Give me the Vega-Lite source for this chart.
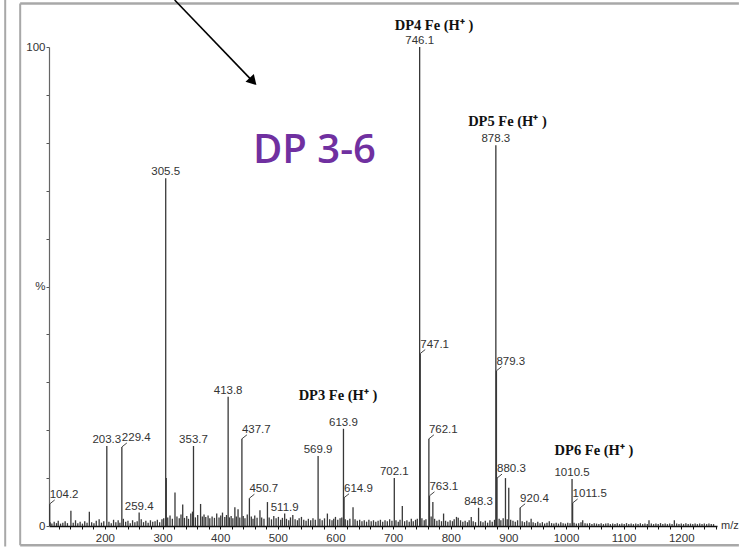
{
  "$schema": "https://vega.github.io/schema/vega-lite/v6.json",
  "width": 668,
  "height": 479,
  "autosize": {"type": "none"},
  "padding": {"left": 49, "top": 47, "right": 23, "bottom": 22},
  "background": "white",
  "config": {"view": {"stroke": null}},
  "datasets": {
    "peaks": [
      {"mz":104.2,"i":4.6},{"mz":203.3,"i":16.7},{"mz":229.4,"i":16.5},{"mz":259.4,"i":2.8},{"mz":305.5,"i":72.6},{"mz":353.7,"i":16.7},{"mz":413.8,"i":27},{"mz":437.7,"i":18.2},{"mz":450.7,"i":5.8},{"mz":511.9,"i":2.6},{"mz":569.9,"i":14.6},{"mz":613.9,"i":20.3},{"mz":614.9,"i":5.9},{"mz":702.1,"i":10},{"mz":746.1,"i":100},{"mz":747.1,"i":36},{"mz":762.1,"i":18.2},{"mz":763.1,"i":6.3},{"mz":848.3,"i":3.8},{"mz":878.3,"i":79.5},{"mz":879.3,"i":32.4},{"mz":880.3,"i":10},{"mz":920.4,"i":3.8},{"mz":1010.5,"i":9.8},{"mz":1011.5,"i":4.8},
      {"mz":105,"i":0.8},{"mz":108,"i":0.5},{"mz":112,"i":0.9},{"mz":116,"i":0.6},{"mz":119,"i":1.1},{"mz":123,"i":0.5},{"mz":127,"i":0.7},{"mz":131,"i":1.0},{"mz":135,"i":0.6},{"mz":141,"i":3.2},{"mz":145,"i":0.7},{"mz":149,"i":1.2},{"mz":153,"i":0.6},{"mz":157,"i":0.9},{"mz":161,"i":0.5},{"mz":165,"i":1.0},{"mz":169,"i":0.7},{"mz":173,"i":3.0},{"mz":177,"i":0.8},{"mz":181,"i":0.6},{"mz":185,"i":1.1},{"mz":190,"i":1.4},{"mz":194,"i":0.7},{"mz":198,"i":1.0},{"mz":207,"i":0.9},{"mz":211,"i":0.6},{"mz":215,"i":1.3},{"mz":219,"i":0.8},{"mz":223,"i":1.2},{"mz":226,"i":0.7},{"mz":232,"i":1.5},{"mz":236,"i":0.9},{"mz":240,"i":1.1},{"mz":244,"i":0.6},{"mz":248,"i":1.2},{"mz":252,"i":0.8},{"mz":256,"i":1.0},{"mz":263,"i":1.4},{"mz":267,"i":0.8},{"mz":271,"i":1.1},{"mz":275,"i":0.7},{"mz":279,"i":1.2},{"mz":283,"i":0.9},{"mz":287,"i":1.0},{"mz":291,"i":1.3},{"mz":295,"i":0.8},{"mz":299,"i":1.4},{"mz":302,"i":1.6},{"mz":306.5,"i":10},{"mz":309,"i":1.8},{"mz":313,"i":2.2},{"mz":317,"i":1.5},{"mz":321.6,"i":7},{"mz":325,"i":2.0},{"mz":329,"i":1.6},{"mz":332,"i":2.4},{"mz":335,"i":4.5},{"mz":338,"i":1.7},{"mz":342,"i":2.1},{"mz":345,"i":1.5},{"mz":349,"i":2.6},{"mz":352,"i":3.0},{"mz":357,"i":1.8},{"mz":361,"i":2.3},{"mz":366,"i":4.6},{"mz":369,"i":2.0},{"mz":372,"i":2.4},{"mz":375,"i":1.9},{"mz":379,"i":2.2},{"mz":382,"i":1.6},{"mz":386,"i":2.0},{"mz":390,"i":1.7},{"mz":394,"i":2.6},{"mz":398,"i":1.8},{"mz":401,"i":2.2},{"mz":404,"i":2.8},{"mz":408,"i":1.9},{"mz":411,"i":2.3},{"mz":416,"i":1.8},{"mz":419,"i":2.1},{"mz":422,"i":1.6},{"mz":425.5,"i":3.9},{"mz":428,"i":2.0},{"mz":431,"i":3.5},{"mz":434,"i":1.8},{"mz":440,"i":2.1},{"mz":443,"i":1.6},{"mz":447,"i":2.4},{"mz":454,"i":2.0},{"mz":457,"i":1.5},{"mz":460,"i":2.2},{"mz":464,"i":1.7},{"mz":469,"i":3.3},{"mz":472,"i":1.8},{"mz":476,"i":1.5},{"mz":482,"i":5.0},{"mz":485,"i":1.8},{"mz":489,"i":1.4},{"mz":493,"i":2.1},{"mz":497,"i":1.6},{"mz":501,"i":1.9},{"mz":505,"i":1.3},{"mz":508,"i":1.7},{"mz":515,"i":1.5},{"mz":519,"i":1.2},{"mz":522,"i":1.8},{"mz":526,"i":2.3},{"mz":530,"i":1.4},{"mz":534,"i":1.2},{"mz":537,"i":1.6},{"mz":541,"i":1.9},{"mz":545,"i":1.3},{"mz":549,"i":1.1},{"mz":553,"i":1.5},{"mz":557,"i":1.2},{"mz":561,"i":1.6},{"mz":565,"i":1.3},{"mz":573,"i":1.5},{"mz":577,"i":1.2},{"mz":581,"i":1.6},{"mz":586,"i":2.6},{"mz":590,"i":1.4},{"mz":594,"i":1.2},{"mz":597,"i":1.5},{"mz":600,"i":1.9},{"mz":604,"i":1.3},{"mz":608,"i":1.6},{"mz":611,"i":1.8},{"mz":617,"i":1.4},{"mz":621,"i":1.2},{"mz":625,"i":1.5},{"mz":630.5,"i":3.9},{"mz":634,"i":1.4},{"mz":638,"i":1.1},{"mz":642,"i":1.3},{"mz":646,"i":1.0},{"mz":650,"i":1.2},{"mz":654,"i":0.9},{"mz":658,"i":1.3},{"mz":662,"i":1.0},{"mz":666,"i":1.2},{"mz":670,"i":0.9},{"mz":674,"i":1.1},{"mz":678,"i":1.3},{"mz":682,"i":0.9},{"mz":686,"i":1.2},{"mz":690,"i":1.0},{"mz":694,"i":1.4},{"mz":698,"i":1.1},{"mz":705,"i":1.2},{"mz":709,"i":0.9},{"mz":712,"i":1.3},{"mz":716,"i":4.2},{"mz":720,"i":1.0},{"mz":724,"i":1.2},{"mz":728,"i":0.9},{"mz":731.6,"i":1.5},{"mz":735,"i":1.0},{"mz":739,"i":1.3},{"mz":742,"i":1.5},{"mz":750,"i":1.6},{"mz":754,"i":1.2},{"mz":757,"i":1.4},{"mz":766,"i":2.0},{"mz":769,"i":5.0},{"mz":772,"i":1.5},{"mz":776,"i":1.1},{"mz":780,"i":1.3},{"mz":784,"i":1.0},{"mz":787.6,"i":2.6},{"mz":791,"i":1.1},{"mz":795,"i":0.9},{"mz":799,"i":1.2},{"mz":803,"i":1.0},{"mz":806,"i":1.4},{"mz":810,"i":1.9},{"mz":813,"i":1.7},{"mz":817,"i":1.2},{"mz":821,"i":0.9},{"mz":825,"i":1.1},{"mz":829,"i":0.8},{"mz":832,"i":1.2},{"mz":835.6,"i":1.9},{"mz":839,"i":1.0},{"mz":843,"i":0.8},{"mz":852,"i":1.0},{"mz":856,"i":0.8},{"mz":860,"i":1.1},{"mz":864,"i":0.7},{"mz":868,"i":1.2},{"mz":872,"i":0.9},{"mz":876,"i":1.3},{"mz":884,"i":1.5},{"mz":887,"i":1.2},{"mz":891,"i":1.6},{"mz":895,"i":10},{"mz":898,"i":1.4},{"mz":900.7,"i":8},{"mz":904,"i":1.3},{"mz":908,"i":1.1},{"mz":912,"i":0.9},{"mz":916,"i":1.2},{"mz":924,"i":1.0},{"mz":928,"i":0.8},{"mz":932,"i":1.1},{"mz":936,"i":0.8},{"mz":939.5,"i":1.5},{"mz":943,"i":0.8},{"mz":947,"i":0.6},{"mz":951,"i":0.9},{"mz":955,"i":0.6},{"mz":959,"i":0.8},{"mz":963,"i":0.5},{"mz":967,"i":0.7},{"mz":971,"i":1.0},{"mz":975,"i":0.6},{"mz":979,"i":0.5},{"mz":983,"i":0.7},{"mz":987,"i":0.5},{"mz":991,"i":0.8},{"mz":995,"i":0.6},{"mz":999,"i":0.5},{"mz":1003,"i":0.7},{"mz":1007,"i":0.6},{"mz":1014,"i":0.7},{"mz":1018,"i":0.5},{"mz":1022,"i":0.6},{"mz":1026,"i":0.8},{"mz":1029,"i":1.2},{"mz":1033,"i":0.6},{"mz":1037,"i":0.5},{"mz":1041,"i":0.6},{"mz":1045,"i":0.4},{"mz":1049,"i":0.6},{"mz":1053,"i":0.5},{"mz":1057,"i":0.4},{"mz":1061,"i":0.6},{"mz":1065,"i":0.4},{"mz":1069,"i":0.5},{"mz":1073,"i":0.6},{"mz":1077,"i":0.4},{"mz":1081,"i":0.5},{"mz":1085,"i":0.4},{"mz":1089,"i":0.6},{"mz":1093,"i":0.4},{"mz":1097,"i":0.5},{"mz":1101,"i":0.4},{"mz":1105,"i":0.6},{"mz":1109,"i":0.4},{"mz":1113,"i":0.5},{"mz":1117,"i":0.4},{"mz":1121,"i":0.5},{"mz":1125,"i":0.4},{"mz":1129,"i":0.6},{"mz":1133,"i":0.4},{"mz":1137,"i":0.5},{"mz":1141,"i":0.4},{"mz":1144,"i":1.2},{"mz":1148,"i":0.5},{"mz":1152,"i":0.4},{"mz":1156,"i":0.5},{"mz":1160,"i":0.4},{"mz":1164,"i":0.6},{"mz":1168,"i":0.4},{"mz":1172,"i":0.5},{"mz":1176,"i":0.4},{"mz":1180,"i":0.5},{"mz":1184,"i":0.4},{"mz":1188,"i":1.2},{"mz":1192,"i":0.5},{"mz":1196,"i":0.4},{"mz":1200,"i":0.5},{"mz":1204,"i":0.4},{"mz":1208,"i":0.6},{"mz":1212,"i":0.4},{"mz":1216,"i":0.5},{"mz":1220,"i":0.4},{"mz":1224,"i":0.5},{"mz":1228,"i":0.4},{"mz":1232,"i":0.5},{"mz":1236,"i":0.4},{"mz":1240,"i":0.5},{"mz":1244,"i":0.4},{"mz":1248,"i":0.5},{"mz":1252,"i":0.4},{"mz":1256,"i":0.4}
    ],
    "labels": [
      {"mz":305.5,"i":72.6,"text":"305.5","kind":"top"},
      {"mz":746.1,"i":100,"text":"746.1","kind":"top"},
      {"mz":878.3,"i":79.5,"text":"878.3","kind":"top"},
      {"mz":413.8,"i":27,"text":"413.8","kind":"top"},
      {"mz":203.3,"i":16.7,"text":"203.3","kind":"top"},
      {"mz":353.7,"i":16.7,"text":"353.7","kind":"top"},
      {"mz":569.9,"i":14.6,"text":"569.9","kind":"top"},
      {"mz":613.9,"i":20.3,"text":"613.9","kind":"top"},
      {"mz":702.1,"i":10,"text":"702.1","kind":"top"},
      {"mz":848.3,"i":3.8,"text":"848.3","kind":"top"},
      {"mz":1010.5,"i":9.8,"text":"1010.5","kind":"top"},
      {"mz":259.4,"i":2.8,"text":"259.4","kind":"top"},
      {"mz":511.9,"i":2.6,"text":"511.9","kind":"top"},
      {"mz":747.1,"i":36,"text":"747.1","kind":"side"},
      {"mz":879.3,"i":32.4,"text":"879.3","kind":"side"},
      {"mz":229.4,"i":16.5,"text":"229.4","kind":"side"},
      {"mz":437.7,"i":18.2,"text":"437.7","kind":"side"},
      {"mz":450.7,"i":5.8,"text":"450.7","kind":"side"},
      {"mz":104.2,"i":4.6,"text":"104.2","kind":"side"},
      {"mz":614.9,"i":5.9,"text":"614.9","kind":"side"},
      {"mz":762.1,"i":18.2,"text":"762.1","kind":"side"},
      {"mz":763.1,"i":6.3,"text":"763.1","kind":"side"},
      {"mz":880.3,"i":10,"text":"880.3","kind":"side"},
      {"mz":920.4,"i":3.8,"text":"920.4","kind":"side"},
      {"mz":1011.5,"i":4.8,"text":"1011.5","kind":"side"}
    ],
    "ions": [
      {"mz":771,"i":103.6,"text":"DP4 Fe (H⁺ )"},
      {"mz":898.5,"i":83.6,"text":"DP5 Fe (H⁺ )"},
      {"mz":604.4,"i":26.3,"text":"DP3 Fe (H⁺ )"},
      {"mz":1048.5,"i":14.8,"text":"DP6 Fe (H⁺ )"}
    ],
    "title": [{"mz":563.6,"i":75.8,"text":"DP 3-6"}],
    "unit": [{"mz":1262,"i":0,"text":"m/z"}],
    "arrow": [{"mz":321,"i":109.8,"mz2":452,"i2":93.4}],
    "head": [{"mz":457,"i":92.8}],
    "frameH": [{"mz":53,"i":109.1,"mz2":1300},{"mz":53,"i":-4,"mz2":1300}],
    "frameV": [{"mz":53,"i":-4,"i2":109.1},{"mz":27,"i":-4.3,"i2":109.8}]
  },
  "encoding": {
    "x": {
      "field": "mz", "type": "quantitative",
      "scale": {"domain": [103, 1262], "nice": false, "zero": false},
      "axis": {
        "title": null, "grid": false,
        "values": [120,140,160,180,200,220,240,260,280,300,320,340,360,380,400,420,440,460,480,500,520,540,560,580,600,620,640,660,680,700,720,740,760,780,800,820,840,860,880,900,920,940,960,980,1000,1020,1040,1060,1080,1100,1120,1140,1160,1180,1200,1220,1240,1260],
        "labelExpr": "datum.value % 100 === 0 ? datum.label : ''",
        "format": "d",
        "domainColor": "#111", "domainWidth": 1.5,
        "tickColor": "#111", "tickSize": 3,
        "labelFont": "Liberation Sans", "labelFontSize": 11.5, "labelColor": "#333333",
        "labelPadding": 3, "labelFlush": false
      }
    },
    "y": {
      "field": "i", "type": "quantitative",
      "scale": {"domain": [0, 100], "nice": false},
      "axis": {
        "title": null, "grid": false,
        "values": [0,10,20,30,40,50,60,70,80,90,100],
        "labelExpr": "datum.value === 0 ? '0' : datum.value === 100 ? '100' : datum.value === 50 ? '%' : ''",
        "domainColor": "#666", "domainWidth": 1.2,
        "tickColor": "#555", "tickSize": 3,
        "labelFont": "Liberation Sans", "labelFontSize": 11.5, "labelColor": "#333333",
        "labelPadding": 1
      }
    }
  },
  "layer": [
    {
      "data": {"name": "frameH"},
      "mark": {"type": "rule", "stroke": "#a8a8a8", "strokeWidth": 2.5},
      "encoding": {
        "x2": {"field": "mz2"}
      }
    },
    {
      "data": {"name": "frameV"},
      "mark": {"type": "rule", "stroke": "#a8a8a8", "strokeWidth": 2},
      "encoding": {
        "y2": {"field": "i2"}
      }
    },
    {
      "data": {"name": "peaks"},
      "mark": {"type": "rule", "stroke": "#383838", "strokeWidth": 1.3},
      "encoding": {
        "y2": {"datum": 0}
      }
    },
    {
      "data": {"name": "labels"},
      "transform": [{"filter": "datum.kind === 'top'"}],
      "mark": {"type": "text", "align": "center", "baseline": "alphabetic", "dy": -3, "font": "Liberation Sans", "fontSize": 11.5, "fill": "#333333"},
      "encoding": {"text": {"field": "text"}}
    },
    {
      "data": {"name": "labels"},
      "transform": [{"filter": "datum.kind === 'side'"}],
      "mark": {"type": "text", "align": "left", "baseline": "alphabetic", "dx": 0, "dy": -6, "font": "Liberation Sans", "fontSize": 11.5, "fill": "#333333"},
      "encoding": {"text": {"field": "text"}}
    },
    {
      "data": {"name": "labels"},
      "transform": [{"filter": "datum.kind === 'side'"}],
      "mark": {"type": "point", "shape": "M0,0L2.5,-2", "size": 16, "filled": false, "stroke": "#444", "strokeWidth": 1, "opacity": 1},
      "encoding": {}
    },
    {
      "data": {"name": "ions"},
      "mark": {"type": "text", "align": "center", "baseline": "alphabetic", "font": "Liberation Serif", "fontWeight": "bold", "fontSize": 14.5, "fill": "#111"},
      "encoding": {"text": {"field": "text"}}
    },
    {
      "data": {"name": "title"},
      "mark": {"type": "text", "align": "center", "baseline": "alphabetic", "font": "Open Sans", "fontWeight": 600, "fontSize": 40, "fill": "#7030A0"},
      "encoding": {"text": {"field": "text"}}
    },
    {
      "data": {"name": "arrow"},
      "mark": {"type": "rule", "stroke": "#000", "strokeWidth": 1.6},
      "encoding": {
        "x2": {"field": "mz2"},
        "y2": {"field": "i2"}
      }
    },
    {
      "data": {"name": "head"},
      "mark": {"type": "point", "shape": "triangle-up", "size": 130, "angle": 137, "filled": true, "fill": "#000", "opacity": 1},
      "encoding": {}
    },
    {
      "data": {"name": "unit"},
      "mark": {"type": "text", "align": "left", "baseline": "middle", "dx": 4, "font": "Liberation Sans", "fontSize": 11, "fill": "#333333"},
      "encoding": {"text": {"field": "text"}}
    }
  ]
}
